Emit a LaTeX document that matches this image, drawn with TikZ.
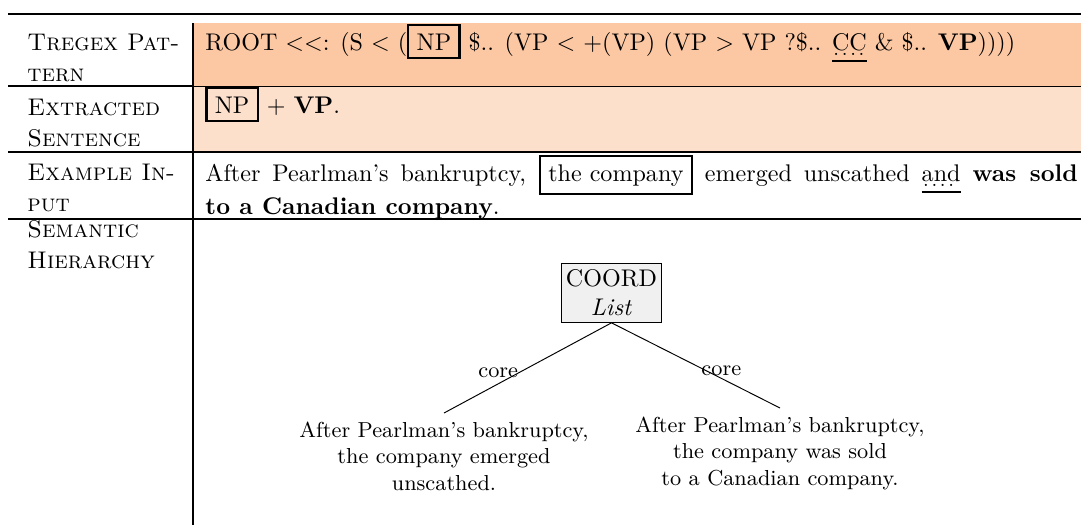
\documentclass[tikz,border=0pt]{standalone}
\usepackage{tikz}
\usetikzlibrary{positioning}
\definecolor{patfill}{RGB}{252,200,164}
\definecolor{extfill}{RGB}{252,224,204}
\setlength{\fboxrule}{0.9pt}
\newcommand{\cuemark}[1]{\setbox0=\hbox{#1}%
  \rlap{\raisebox{-5pt}{\rule{\wd0}{0.8pt}}}%
  \rlap{\raisebox{-2.4pt}{\hbox to \wd0{\footnotesize\leaders\hbox to 3.5pt{\hss.\hss}\hfill}}}%
  \box0\relax}

\begin{document}
\begin{tikzpicture}[x=0.415pt,y=-0.415pt,
    hd/.style={anchor=base west,align=left,font=\scshape,inner sep=0pt},
    cell/.style={anchor=base west,inner sep=0pt},
    rel/.style={draw,fill=gray!12,align=center,inner xsep=2pt,inner ysep=2.6pt},
    leaf/.style={font=\small,align=center,anchor=north,inner sep=3.5pt},
    lab/.style={font=\small,inner sep=0.5pt}]
  \useasboundingbox (0,0) rectangle (1081,525);

  \fill[patfill] (193,23) rectangle (1081,86);
  \fill[extfill] (193,86) rectangle (1081,152);
  \draw[line width=1.1pt] (8,14) -- (1081,14);
  \draw[line width=0.8pt] (8,86) -- (193,86);
  \draw[line width=0.4pt] (193,86) -- (1081,86);
  \draw[line width=0.8pt] (8,152) -- (1081,152);
  \draw[line width=0.8pt] (8,219) -- (1081,219);
  \draw[line width=0.8pt] (193,23) -- (193,525);

  \node[hd] (h_0) at (27,81) {Tregex Pat-\\[0.6pt]tern};
  \node[hd] (h_1) at (27,146) {Extracted\\[0.6pt]Sentence};
  \node[hd] (h_2) at (27,211) {Example In-\\[0.6pt]put};
  \node[hd] (h_3) at (27,268) {Semantic\\[0.6pt]Hierarchy};

  \node[cell] (c_0) at (205,50)
    {ROOT <\kern0pt<: (S < (\fbox{NP} \$.. (VP < +(VP) (VP > VP ?\$.. \cuemark{CC} \& \$.. \textbf{VP}))))};
  \node[cell] (c_1) at (205,113) {\fbox{NP} + \textbf{VP}.};
  \node[cell,text width=362pt,align=justify] (c_2) at (205,181)
    {After Pearlman's bankruptcy, \fbox{the company} emerged unscathed \cuemark{and} \textbf{was sold}\linebreak
     \textbf{to a Canadian company}.};

  \node[rel] (t_0) at (611.5,293) {COORD\\\textit{List}};
  \node[leaf] (t_1) at (444,413) {After Pearlman's bankruptcy,\\the company emerged\\unscathed.};
  \node[leaf] (t_2) at (780,408) {After Pearlman's bankruptcy,\\the company was sold\\to a Canadian company.};

  \draw (t_0.south) -- node[lab,pos=0.548,anchor=base east,yshift=-2pt] {core} (t_1.north);
  \draw (t_0.south) -- node[lab,pos=0.524,anchor=base west,yshift=-3.5pt] {core} (t_2.north);
\end{tikzpicture}
\end{document}
